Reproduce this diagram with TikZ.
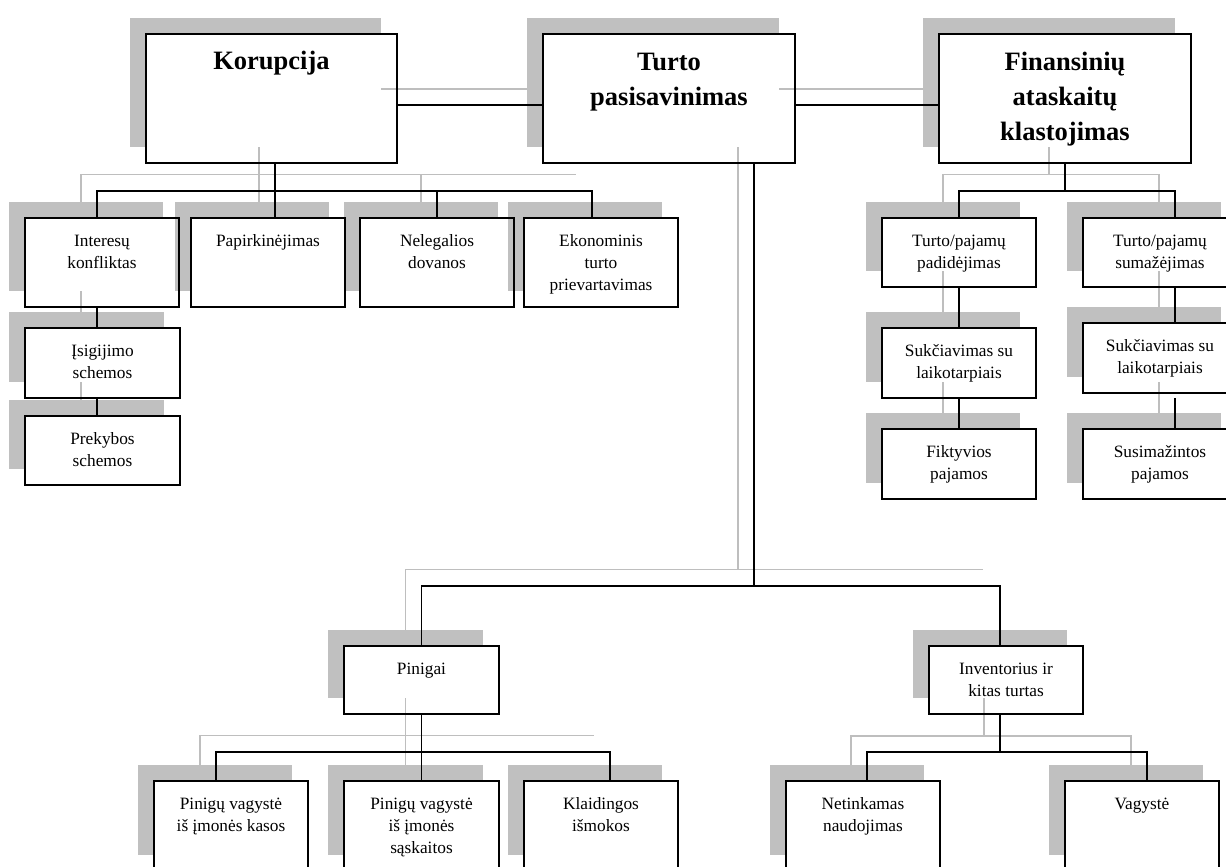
\documentclass[tikz,border=0pt]{standalone}
\usepackage{fontspec}
\setmainfont{Liberation Serif}
\usetikzlibrary{calc}

\definecolor{shadowgray}{RGB}{192,192,192}
\definecolor{lightline}{RGB}{190,190,190}

\pgfdeclarelayer{bg}
\pgfdeclarelayer{boxes}
\pgfdeclarelayer{grays}
\pgfdeclarelayer{borders}
\pgfsetlayers{bg,boxes,grays,borders,main}

\tikzset{
  boxfill/.style={fill=white, inner sep=0pt, outer sep=0pt},
  boxline/.style={line width=2pt, line join=miter},
  shadefill/.style={fill=shadowgray},
  link/.style={line width=1.8pt},
  gline/.style={line width=1.3pt, draw=lightline},
  % labels are anchored on the baseline of their last line
  smalltxt/.style={anchor=base, align=center, inner sep=0pt,
    font=\fontsize{17.3pt}{22pt}\selectfont},
  bigtxt/.style={anchor=base, align=center, inner sep=0pt,
    font=\bfseries\fontsize{26.5pt}{35pt}\selectfont},
}

% box with its offset shadow: name, centre x, centre y, width, height
\newcommand\orgbox[5]{%
  \begin{pgfonlayer}{boxes}
    \fill[shadefill] (#2-#4/2-16, #3-#5/2-16) rectangle (#2+#4/2-16, #3+#5/2-16);
    \node[boxfill, minimum width=#4pt, minimum height=#5pt] (#1) at (#2,#3) {};
  \end{pgfonlayer}
  \begin{pgfonlayer}{borders}
    \draw[boxline] (#1.north west) rectangle (#1.south east);
  \end{pgfonlayer}}

% elbow connector with its shadow line:
% [style] parent, parent x-offset, drop to bus, child, child x-offset
\newcommand\tie[6][]{%
  \begin{pgfonlayer}{grays}
    \draw[gline,#1] ([shift={(#3pt-16pt,16pt)}]#2.south) -- ++(0,#4)
      -| ([shift={(#6pt-16pt,16pt)}]#5.north);
  \end{pgfonlayer}
  \draw[link,#1] ([xshift=#3pt]#2.south) -- ++(0,#4) -| ([xshift=#6pt]#5.north);}

% same, but the shadow line stops at the bus after a run of #6
\newcommand\tiebus[6]{%
  \begin{pgfonlayer}{grays}
    \draw[gline] ([shift={(#2pt-16pt,16pt)}]#1.south) -- ++(0,#3) -- ++(#6,0);
  \end{pgfonlayer}
  \draw[link] ([xshift=#2pt]#1.south) -- ++(0,#3) -| ([xshift=#5pt]#4.north);}

\begin{document}
\begin{tikzpicture}[x=1pt,y=-1pt]
\useasboundingbox (0,0) rectangle (1226,867);
\begin{pgfonlayer}{bg}
  \fill[white] (0,0) rectangle (1226,867);
\end{pgfonlayer}

% ---- boxes ----
\orgbox{kor}{271.5}{98.5}{251}{129}
\orgbox{tur}{669}{98.5}{252}{129}
\orgbox{fin}{1065}{98.5}{252}{129}

\orgbox{int}{102}{262.5}{154}{89}
\orgbox{pap}{268}{262.5}{154}{89}
\orgbox{nel}{437}{262.5}{154}{89}
\orgbox{eko}{601}{262.5}{154}{89}

\orgbox{isi}{102.5}{363}{155}{70}
\orgbox{pre}{102.5}{450.5}{155}{69}

\orgbox{pad}{959}{252.5}{154}{69}
\orgbox{sum}{1160}{252.5}{154}{69}
\orgbox{sukA}{959}{363}{154}{70}
\orgbox{sukB}{1160}{358}{154}{70}
\orgbox{fik}{959}{464}{154}{70}
\orgbox{susi}{1160}{464}{154}{70}

\orgbox{pin}{421.5}{680}{155}{68}
\orgbox{inv}{1006}{680}{154}{68}

\orgbox{kas}{231}{826}{154}{90}
\orgbox{sas}{421.5}{826}{155}{90}
\orgbox{kla}{601}{826}{154}{90}
\orgbox{net}{863}{826}{154}{90}
\orgbox{vag}{1142}{826}{154}{90}

% ---- top row links ----
\begin{pgfonlayer}{grays}
  \draw[gline] ([shift={(-16pt,9.5pt)}]kor.east) -- ([shift={(-16pt,9.5pt)}]tur.west);
  \draw[gline] ([shift={(-16pt,9.5pt)}]tur.east) -- ([shift={(-16pt,9.5pt)}]fin.west);
\end{pgfonlayer}
\draw[link] ([yshift=-6.5pt]kor.east) -- ([yshift=-6.5pt]tur.west);
\draw[link] ([yshift=-6.5pt]tur.east) -- ([yshift=-6.5pt]fin.west);

% ---- Korupcija ----
\tie{kor}{3.5}{27.7}{int}{-5}
\tie{kor}{3.5}{27.7}{pap}{7}
\tie{kor}{3.5}{27.7}{nel}{0}
\tiebus{kor}{3.5}{27.7}{eko}{-9}{317}
\tie{int}{-5}{10}{isi}{-5.5}
\tie{isi}{-5.5}{9}{pre}{-5.5}

% ---- Finansiniu ataskaitu klastojimas ----
\tie{fin}{0}{27.7}{pad}{0}
\tie{fin}{0}{27.7}{sum}{15}
\tie{pad}{0}{20}{sukA}{0}
\tie{sukA}{0}{15}{fik}{0}
\tie{sum}{15}{18}{sukB}{15}
\tie[shorten <=5pt]{sukB}{15}{18}{susi}{15}

% ---- Turto pasisavinimas ----
\tie{tur}{85}{422.7}{pin}{0}
\tiebus{tur}{85}{422.7}{inv}{-6}{245}
\tie{pin}{0}{37.7}{kas}{-15}
\tie{pin}{0}{37.7}{sas}{0}
\tiebus{pin}{0}{37.7}{kla}{9}{188.5}
\tie{inv}{-6}{38}{net}{4}
\tie{inv}{-6}{38}{vag}{5}

% ---- labels (shift = first baseline + leading x further lines) ----
\node[bigtxt] (t-kor) at ([yshift=-36pt]kor.north) {Korupcija};
\node[bigtxt] (t-tur) at ([yshift=-71pt]tur.north) {Turto\\pasisavinimas};
\node[bigtxt] (t-fin) at ([yshift=-106pt]fin.north) {Finansinių\\ataskaitų\\klastojimas};

\node[smalltxt] (t-int) at ([yshift=-50.5pt]int.north) {Interesų\\konfliktas};
\node[smalltxt] (t-pap) at ([yshift=-28.5pt]pap.north) {Papirkinėjimas};
\node[smalltxt] (t-nel) at ([yshift=-50.5pt]nel.north) {Nelegalios\\dovanos};
\node[smalltxt] (t-eko) at ([yshift=-72.5pt]eko.north) {Ekonominis\\turto\\prievartavimas};
\node[smalltxt] (t-isi) at ([yshift=-50.5pt]isi.north) {Įsigijimo\\schemos};
\node[smalltxt] (t-pre) at ([yshift=-50.5pt]pre.north) {Prekybos\\schemos};

\node[smalltxt] (t-pad) at ([yshift=-50.5pt]pad.north) {Turto/pajamų\\padidėjimas};
\node[smalltxt] (t-sum) at ([yshift=-50.5pt]sum.north) {Turto/pajamų\\sumažėjimas};
\node[smalltxt] (t-sukA) at ([yshift=-50.5pt]sukA.north) {Sukčiavimas su\\laikotarpiais};
\node[smalltxt] (t-sukB) at ([yshift=-50.5pt]sukB.north) {Sukčiavimas su\\laikotarpiais};
\node[smalltxt] (t-fik) at ([yshift=-50.5pt]fik.north) {Fiktyvios\\pajamos};
\node[smalltxt] (t-susi) at ([yshift=-50.5pt]susi.north) {Susimažintos\\pajamos};

\node[smalltxt] (t-pin) at ([yshift=-28.5pt]pin.north) {Pinigai};
\node[smalltxt] (t-inv) at ([yshift=-50.5pt]inv.north) {Inventorius ir\\kitas turtas};
\node[smalltxt] (t-kas) at ([yshift=-50.5pt]kas.north) {Pinigų vagystė\\iš įmonės kasos};
\node[smalltxt] (t-sas) at ([yshift=-72.5pt]sas.north) {Pinigų vagystė\\iš įmonės\\sąskaitos};
\node[smalltxt] (t-kla) at ([yshift=-50.5pt]kla.north) {Klaidingos\\išmokos};
\node[smalltxt] (t-net) at ([yshift=-50.5pt]net.north) {Netinkamas\\naudojimas};
\node[smalltxt] (t-vag) at ([yshift=-28.5pt]vag.north) {Vagystė};
\end{tikzpicture}
\end{document}
